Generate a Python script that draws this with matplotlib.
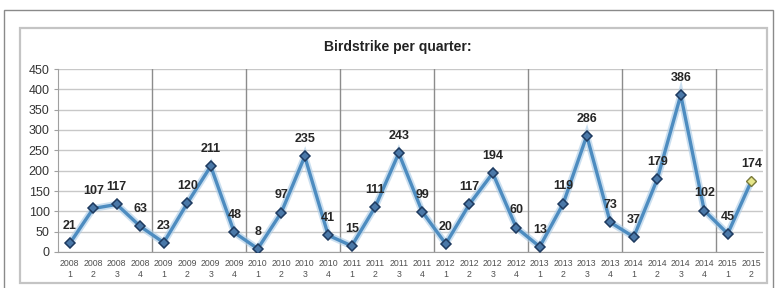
import matplotlib

matplotlib.use("Agg")
import matplotlib.pyplot as plt
from matplotlib.patches import Rectangle

plt.rcParams["font.family"] = ["Liberation Sans", "DejaVu Sans"]

years = [2008] * 4 + [2009] * 4 + [2010] * 4 + [2011] * 4 + [2012] * 4 + [2013] * 4 + [2014] * 4 + [2015] * 2
quarters = [1, 2, 3, 4] * 7 + [1, 2]
strikes = [21, 107, 117, 63, 23, 120, 211, 48, 8, 97, 235, 41, 15, 111, 243, 99,
           20, 117, 194, 60, 13, 119, 286, 73, 37, 179, 386, 102, 45, 174]
title = "Birdstrike per quarter:"

W, H = 780, 288
fig = plt.figure(figsize=(W / 100, H / 100), dpi=100)
fig.patch.set_facecolor("white")

# outer frame and inner chart box
fig.patches.append(Rectangle((4 / W, -0.05), 769 / W, (H - 10) / H + 0.05, transform=fig.transFigure,
                             fill=False, edgecolor="#8a8a8a", linewidth=1.0))
fig.patches.append(Rectangle((20 / W, (H - 283) / H), 747 / W, 255 / H, transform=fig.transFigure,
                             fill=False, edgecolor="#c4c4c4", linewidth=1.6))

ax = fig.add_axes([58 / W, (H - 252) / H, 705 / W, 183 / H])
x = list(range(len(strikes)))
ax.set_xlim(-0.5, len(strikes) - 0.5)
ax.set_ylim(0, 450)
ax.set_yticks(range(0, 451, 50))
ax.yaxis.grid(True, color="#c8c8c8", linewidth=1.0)
ax.set_axisbelow(True)
for b in range(4, len(strikes), 4):
    ax.axvline(b - 0.5, color="#8c8c8c", linewidth=1.0, zorder=1)

for s in ["top", "right"]:
    ax.spines[s].set_visible(False)
ax.spines["left"].set_color("#a0a0a0")
ax.spines["bottom"].set_color("#a0a0a0")

ax.set_xticks(x)
ax.set_xticklabels([f"{y}\n{q}" for y, q in zip(years, quarters)], fontsize=6.3, color="#505050",
                   linespacing=1.25)
ax.tick_params(axis="x", length=0, pad=5)
ax.tick_params(axis="y", length=3, color="#a0a0a0", labelsize=9, labelcolor="#333333", pad=3)

# glow + line
ax.plot(x, strikes, color="#a9cbe6", linewidth=5, alpha=0.6, zorder=3, solid_joinstyle="miter")
ax.plot(x, strikes, color="#4d8cc0", linewidth=2.4, zorder=4)
ax.plot(x[:-1], strikes[:-1], linestyle="none", marker="D", markersize=5.5,
        markerfacecolor="#4a78a8", markeredgecolor="#1e3a5f", markeredgewidth=1.1, zorder=5)
ax.plot(x[-1:], strikes[-1:], linestyle="none", marker="D", markersize=5.5,
        markerfacecolor="#e6e68a", markeredgecolor="#7a7a3a", markeredgewidth=1.0, zorder=5)

for xi, v in zip(x, strikes):
    ax.annotate(str(v), (xi, v), xytext=(0, 8), textcoords="offset points", ha="center",
                va="bottom", fontsize=9, fontweight="bold", color="#262626", zorder=6)

fig.text(398 / W, 1 - 47 / H, title, ha="center", va="center", fontsize=10, fontweight="bold",
         color="#222222")

fig.savefig("out.png", dpi=100)
